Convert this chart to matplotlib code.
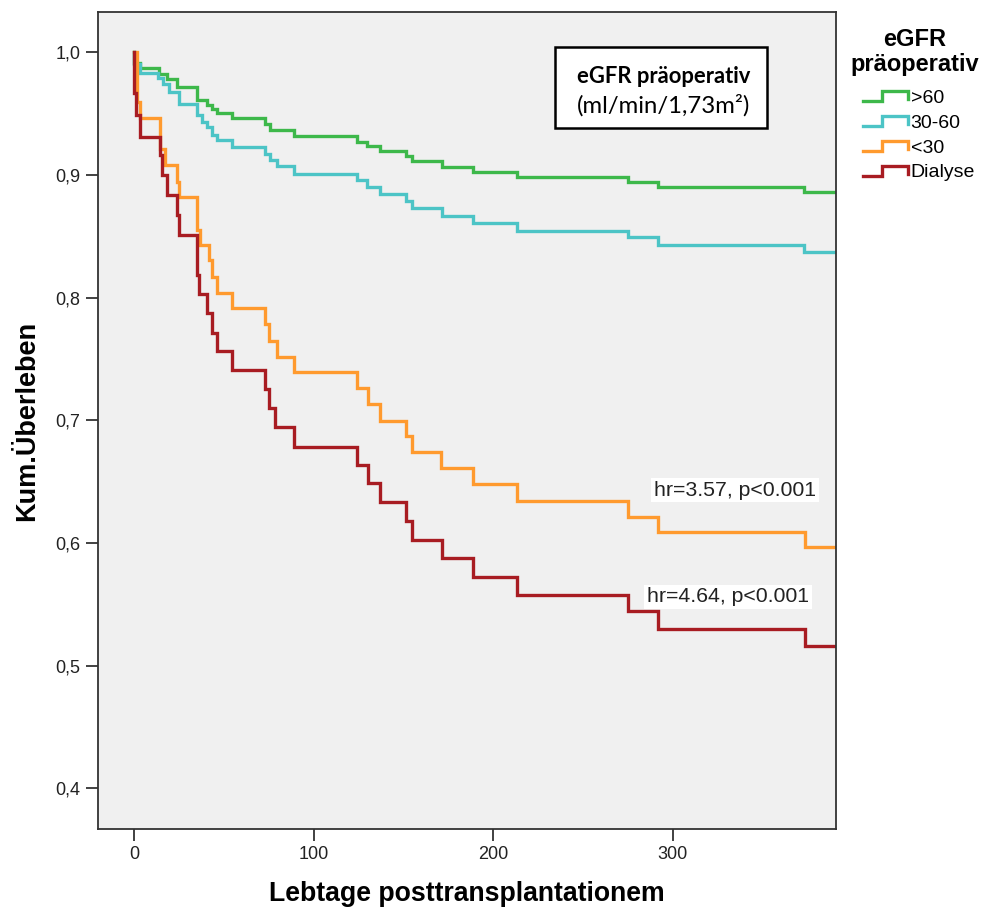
import matplotlib
matplotlib.use("Agg")
import matplotlib.pyplot as plt
from matplotlib.patches import Rectangle
from matplotlib.lines import Line2D
from matplotlib.legend_handler import HandlerLine2D

# ---------------- data ----------------
groups = [">60", "30-60", "<30", "Dialyse"]
colors = ["#3db84a", "#4cc4c6", "#ff9a2e", "#a81c22"]
t_end = 391

t_gt60 = [0, 3.3, 13.8, 18.4, 24, 35.1, 40.7, 43.5, 46.2, 54.6, 73.1, 75.8, 89.1,
          124.1, 129.6, 137, 151.3, 154.7, 171.4, 189, 213.4, 275.4, 292.1, 372.9]
s_gt60 = [0.9913, 0.987, 0.9823, 0.9782, 0.9715, 0.9607, 0.9571, 0.9538, 0.9503, 0.9462,
          0.9416, 0.9362, 0.9313, 0.9269, 0.9234, 0.9196, 0.9153, 0.9114, 0.9066, 0.9025,
          0.8982, 0.8938, 0.8898, 0.8857]

t_30_60 = [0, 3.3, 13.6, 16.3, 19.5, 24.9, 35.1, 37.9, 40.7, 43.5, 46.2, 54.6, 73.1, 75.8,
           79.7, 89.1, 124.1, 129.6, 137, 151.3, 154.7, 171.4, 189, 213.4, 275.4, 292.1, 372.9]
s_30_60 = [0.990, 0.9829, 0.9788, 0.9742, 0.9674, 0.9579, 0.9484, 0.943, 0.9389, 0.9326,
           0.9281, 0.9226, 0.9172, 0.9118, 0.9071, 0.9009, 0.8957, 0.8903, 0.8841, 0.8789,
           0.8727, 0.8664, 0.8604, 0.8544, 0.849, 0.8428, 0.8368]

t_lt30 = [1.5, 3.3, 14.5, 17.4, 24, 25.3, 35.1, 36.5, 41.6, 43.5, 46.2, 54.6, 73.1, 75,
          79.7, 89.1, 124.1, 130.2, 137, 151.5, 154.7, 171.2, 189, 213.4, 275.4, 292.1, 373.8]
s_lt30 = [0.9595, 0.9462, 0.9212, 0.9077, 0.8941, 0.8816, 0.855, 0.8428, 0.8305, 0.817,
          0.8039, 0.7912, 0.7784, 0.7648, 0.7518, 0.7396, 0.726, 0.713, 0.6996, 0.6872,
          0.6739, 0.6608, 0.6481, 0.6345, 0.6214, 0.6092, 0.5965]

t_dial = [0, 1, 3.3, 14.5, 15.6, 18.4, 24, 24.9, 35.1, 36, 40.7, 43.5, 46, 54.6, 73.1, 75,
          78.8, 89.1, 124.1, 130.2, 137, 151.5, 154.7, 171.4, 189, 213.4, 275.4, 292.1, 373.8]
s_dial = [0.967, 0.9487, 0.931, 0.9158, 0.8996, 0.8833, 0.8672, 0.8509, 0.8183, 0.8029,
          0.7871, 0.7713, 0.7567, 0.7409, 0.7252, 0.7097, 0.6942, 0.6784, 0.6635, 0.6486,
          0.6332, 0.6182, 0.6028, 0.5875, 0.5726, 0.558, 0.5442, 0.5297, 0.5161]

series_t = [t_gt60, t_30_60, t_lt30, t_dial]
series_s = [s_gt60, s_30_60, s_lt30, s_dial]

x_ticks = [0, 100, 200, 300]
x_tick_labels = ["0", "100", "200", "300"]
y_ticks = [0.4, 0.5, 0.6, 0.7, 0.8, 0.9, 1.0]
y_tick_labels = ["0,4", "0,5", "0,6", "0,7", "0,8", "0,9", "1,0"]

hr_texts = ["hr=3.57, p<0.001", "hr=4.64, p<0.001"]

# ---------------- figure ----------------
plt.rcParams['font.family'] = ['Liberation Sans', 'DejaVu Sans']
fig = plt.figure(figsize=(9.85, 9.14), dpi=100)
ax = fig.add_axes([97.7 / 985, 1 - 829 / 914, (836 - 97.7) / 985, (829 - 12) / 914])
ax.set_facecolor("#f0f0f0")

lines = []
for t, s, c, g in zip(series_t, series_s, colors, groups):
    tt = [0] + list(t) + [t_end]
    ss = [1.0] + list(s) + [s[-1]]
    ln, = ax.step(tt, ss, where="post", color=c, lw=2.4, label=g, solid_joinstyle="miter")
    lines.append(ln)

ax.set_xlim(-20.2, t_end)
ax.set_ylim(0.367, 1.0326)
ax.set_xticks(x_ticks)
ax.set_xticklabels(x_tick_labels)
ax.set_yticks(y_ticks)
ax.set_yticklabels(y_tick_labels)
ax.tick_params(axis="both", direction="out", length=8.5, width=1.3, color="#333333",
               labelsize=13, labelcolor="#222222", pad=4)
for sp in ax.spines.values():
    sp.set_color("#333333")
    sp.set_linewidth(1.3)

ax.set_xlabel("Lebtage posttransplantationem", fontsize=19.2, fontweight="bold", labelpad=13)
ax.set_ylabel("Kum.Überleben", fontsize=19.5, fontweight="bold", labelpad=11)

# annotation box
ax.add_patch(Rectangle((0.6194, 0.858), 0.2872, 0.0991, transform=ax.transAxes,
                       facecolor="white", edgecolor="black", lw=1.8, zorder=5))
ax.text(0.6493, 0.9215, "eGFR präoperativ", transform=ax.transAxes, fontsize=15.8,
        fontweight="bold", family=["Lato", "DejaVu Sans"], va="center", ha="left", zorder=6)
ax.text(0.6493, 0.8862, "(ml/min/1,73m²)", transform=ax.transAxes, fontsize=17.2,
        family=["Lato", "DejaVu Sans"], va="center", ha="left", zorder=6)

# hr labels
ax.text(0.8632, 0.4149, hr_texts[0], transform=ax.transAxes, fontsize=15.3, ha="center",
        va="center", color="#222222", bbox=dict(facecolor="white", edgecolor="none", pad=2.0),
        zorder=6)
ax.text(0.8537, 0.284, hr_texts[1], transform=ax.transAxes, fontsize=15.3, ha="center",
        va="center", color="#222222", bbox=dict(facecolor="white", edgecolor="none", pad=2.0),
        zorder=6)


class StepHandler(HandlerLine2D):
    def create_artists(self, legend, orig_handle, xdescent, ydescent, width, height,
                       fontsize, trans):
        x0 = -xdescent
        y0 = -ydescent + height * 0.1
        y1 = -ydescent + height * 0.9
        xs = [x0, x0 + width * 0.42, x0 + width * 0.42, x0 + width, x0 + width]
        ys = [y0, y0, y1, y1, y0 + height * 0.15]
        ln = Line2D(xs, ys, color=orig_handle.get_color(), lw=2.4,
                    solid_joinstyle="miter", transform=trans)
        return [ln]


# legend title (centered, two lines)
fig.text(915 / 985, 1 - 52 / 914, "eGFR\npräoperativ", ha="center", va="center",
         multialignment="center", fontsize=17, fontweight="bold", linespacing=1.1)

leg = fig.legend(handles=lines, labels=groups, loc="upper left",
                 bbox_to_anchor=(863 / 985, 1 - 90 / 914), frameon=False,
                 borderpad=0, borderaxespad=0,
                 fontsize=14, handlelength=2.3, handleheight=0.6, handletextpad=0.15,
                 labelspacing=0.4, handler_map={Line2D: StepHandler()})

fig.savefig("out.png", dpi=100, facecolor="white")
